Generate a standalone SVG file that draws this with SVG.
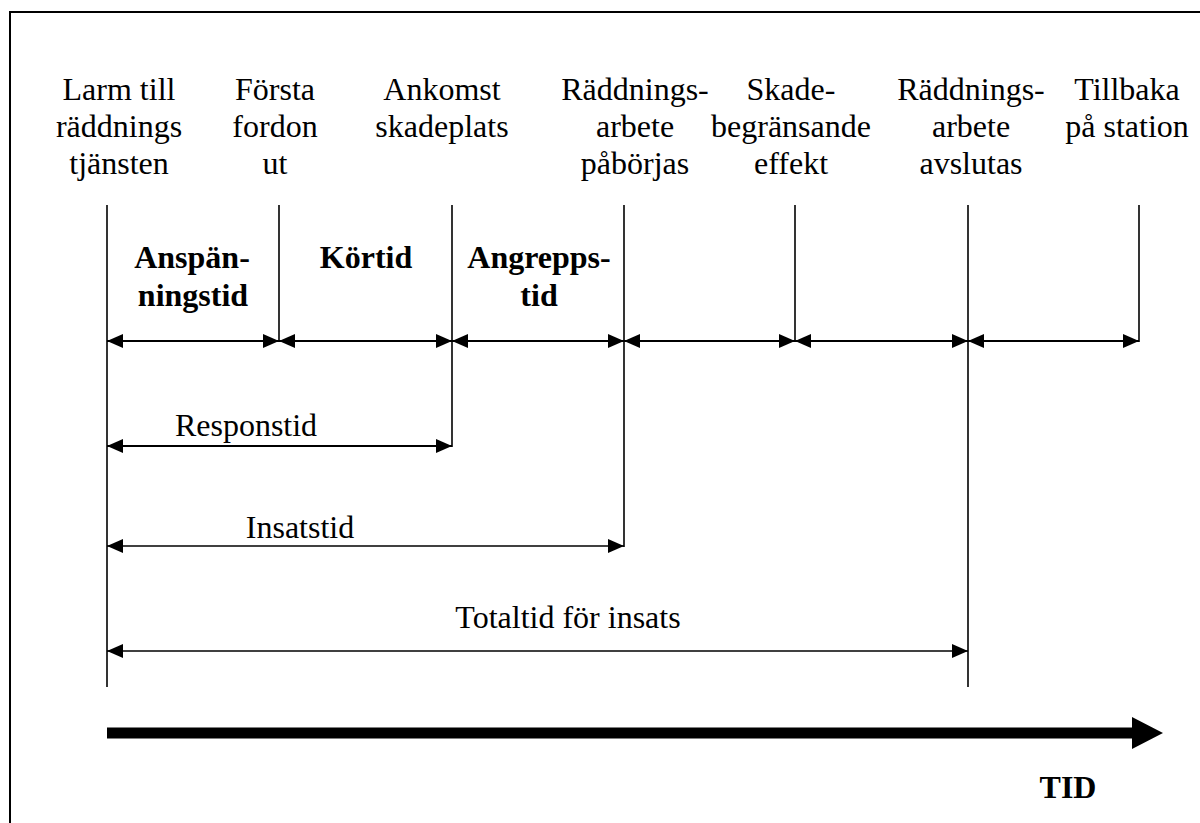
<svg xmlns="http://www.w3.org/2000/svg" width="1200" height="823" viewBox="0 0 1200 823">
<style>
text{font-family:'Liberation Serif','DejaVu Serif','Times New Roman',serif;font-size:32px;fill:#000;text-anchor:middle}
.b{font-weight:bold}
.v{stroke:#000;stroke-width:1.6;fill:none}
.a{stroke:#000;stroke-width:2;fill:none;marker-start:url(#ah);marker-end:url(#ah)}
.a1{stroke:#000;stroke-width:1.6;fill:none;marker-start:url(#ah);marker-end:url(#ah)}
</style>
<defs>
<marker id="ah" markerUnits="userSpaceOnUse" markerWidth="16" markerHeight="14" refX="16" refY="7" orient="auto-start-reverse">
<path d="M0,0 L16,7 L0,14 Z" fill="#000"/>
</marker>
</defs>
<rect x="10" y="12" width="1200" height="830" fill="#fff" stroke="#000" stroke-width="2"/>

<g font-family="Liberation Serif, DejaVu Serif, serif">
<g id="ev1">
<text x="119" y="100">Larm till</text>
<text x="119" y="137">räddnings</text>
<text x="119" y="174">tjänsten</text>
</g>
<g id="ev2">
<text x="275" y="100">Första</text>
<text x="275" y="137">fordon</text>
<text x="275" y="174">ut</text>
</g>
<g id="ev3">
<text x="442" y="100">Ankomst</text>
<text x="442" y="137">skadeplats</text>
</g>
<g id="ev4">
<text x="635" y="100">Räddnings-</text>
<text x="635" y="137">arbete</text>
<text x="635" y="174">påbörjas</text>
</g>
<g id="ev5">
<text x="791" y="100">Skade-</text>
<text x="791" y="137">begränsande</text>
<text x="791" y="174">effekt</text>
</g>
<g id="ev6">
<text x="971" y="100">Räddnings-</text>
<text x="971" y="137">arbete</text>
<text x="971" y="174">avslutas</text>
</g>
<g id="ev7">
<text x="1127" y="100">Tillbaka</text>
<text x="1127" y="137">på station</text>
</g>

<g id="phase1">
<text class="b" x="192" y="268">Anspän-</text>
<text class="b" x="193" y="306">ningstid</text>
</g>
<g id="phase2">
<text class="b" x="366" y="268">Körtid</text>
</g>
<g id="phase3">
<text class="b" x="539" y="268">Angrepps-</text>
<text class="b" x="539" y="306">tid</text>
</g>
<g id="sum1"><text x="246" y="436">Responstid</text></g>
<g id="sum2"><text x="300" y="538">Insatstid</text></g>
<g id="sum3"><text x="568" y="628">Totaltid för insats</text></g>
<g id="axis-label"><text class="b" x="1068" y="798">TID</text></g>
</g>

<g id="connectors">
<line class="v" x1="107" y1="205" x2="107" y2="687"/>
<line class="v" x1="279" y1="205" x2="279" y2="342"/>
<line class="v" x1="452" y1="205" x2="452" y2="447"/>
<line class="v" x1="624" y1="205" x2="624" y2="547"/>
<line class="v" x1="795" y1="205" x2="795" y2="342"/>
<line class="v" x1="968" y1="205" x2="968" y2="687"/>
<line class="v" x1="1139" y1="205" x2="1139" y2="342"/>

<line class="a" x1="107" y1="341" x2="279" y2="341"/>
<line class="a" x1="279" y1="341" x2="452" y2="341"/>
<line class="a" x1="452" y1="341" x2="624" y2="341"/>
<line class="a" x1="624" y1="341" x2="795" y2="341"/>
<line class="a" x1="795" y1="341" x2="968" y2="341"/>
<line class="a" x1="968" y1="341" x2="1139" y2="341"/>

<line class="a" x1="107" y1="446" x2="452" y2="446"/>
<line class="a1" x1="107" y1="546" x2="624" y2="546"/>
<line class="a1" x1="107" y1="651" x2="968" y2="651"/>

<path d="M107,727.5 H1132 V717 L1163,733 L1132,749 V738.5 H107 Z" fill="#000"/>
</g>
</svg>
